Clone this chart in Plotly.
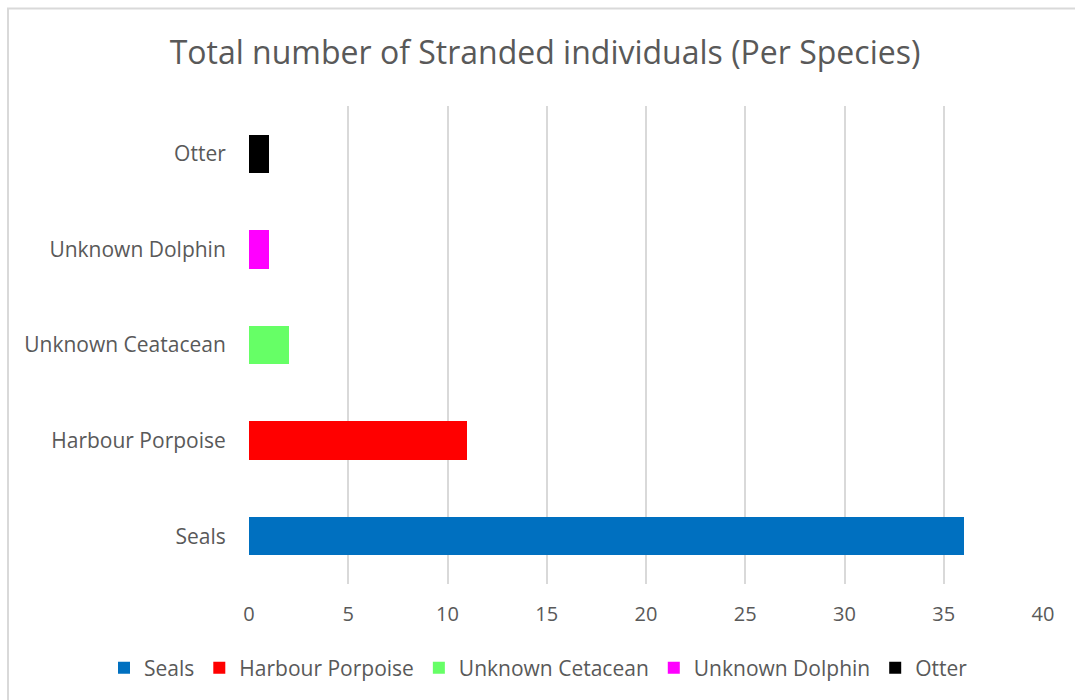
import plotly.graph_objects as go

categories = ["Seals", "Harbour Porpoise", "Unknown Ceatacean", "Unknown Dolphin", "Otter"]
legend_names = ["Seals", "Harbour Porpoise", "Unknown Cetacean", "Unknown Dolphin", "Otter"]
values = [36, 11, 2, 1, 1]
colors = ["#0070C0", "#FF0000", "#66FF66", "#FF00FF", "#000000"]
x_ticks = [0, 5, 10, 15, 20, 25, 30, 35, 40]

FONT = "Open Sans"
TXT = "#595959"

fig = go.Figure()
for cat, name, val, col in zip(categories, legend_names, values, colors):
    fig.add_trace(go.Bar(
        y=[cat], x=[val], name=name, orientation="h",
        marker=dict(color=col, line=dict(width=0)), width=0.4,
    ))

W, H = 1075, 700
L, R, T, B = 249, 32, 106, 116
pw, ph = W - L - R, H - T - B

def px_x(p):
    return (p - L) / pw

def px_y(p):
    return (H - B - p) / ph

fig.update_layout(
    width=W, height=H,
    margin=dict(l=L, r=R, t=T, b=B, autoexpand=False),
    paper_bgcolor="white", plot_bgcolor="white",
    barmode="stack",
    font=dict(family=FONT, color=TXT, size=21),
    title=dict(text="Total number of Stranded individuals (Per Species)",
               x=545 / W, xref="container", xanchor="center",
               y=1 - 53 / H, yanchor="middle",
               font=dict(family=FONT, size=32, color=TXT)),
    xaxis=dict(range=[0, 40], tickvals=x_ticks, showgrid=True,
               gridcolor="#D9D9D9", gridwidth=1.5, zeroline=False, showline=False,
               ticks="outside", ticklen=12, tickcolor="rgba(0,0,0,0)", tickangle=0,
               tickfont=dict(family=FONT, size=20, color=TXT), fixedrange=True),
    yaxis=dict(categoryorder="array", categoryarray=categories, showgrid=False,
               zeroline=False, showline=False, range=[-0.5, 4.5],
               ticks="outside", ticklen=18, tickcolor="rgba(0,0,0,0)",
               tickfont=dict(family=FONT, size=21, color=TXT)),
    legend=dict(orientation="h", x=px_x(104), xref="paper", xanchor="left",
                y=px_y(668), yanchor="middle",
                font=dict(family=FONT, size=21, color=TXT),
                traceorder="normal", itemclick=False, itemwidth=30),
    shapes=[dict(type="rect", xref="paper", yref="paper",
                 x0=px_x(8), x1=px_x(1085), y0=px_y(712), y1=px_y(8.5),
                 line=dict(color="#D9D9D9", width=2), fillcolor="rgba(0,0,0,0)",
                 layer="below")],
)

fig.write_html("out.html")
